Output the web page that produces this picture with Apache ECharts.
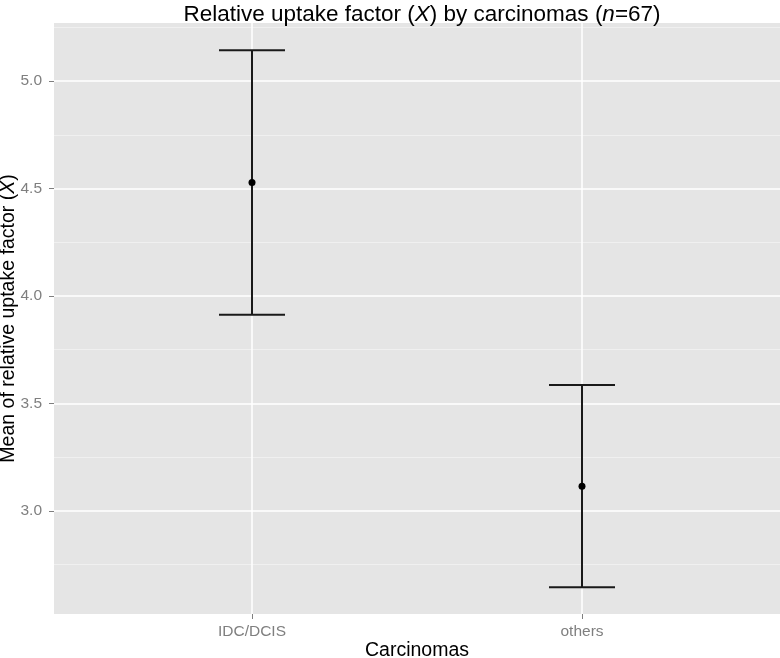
<!DOCTYPE html>
<html>
<head>
<meta charset="utf-8">
<script src="https://cdn.jsdelivr.net/npm/echarts@6/dist/echarts.min.js"></script>
<style>html,body{margin:0;padding:0;background:#fff}#c{width:780px;height:658px}</style>
</head>
<body>
<div id="c"></div>
<script>
const categories = ['IDC/DCIS', 'others'];
const means = [4.528, 3.115];
const lower = [3.912, 2.644];
const upper = [5.143, 3.585];
const yMajorTicks = [3.0, 3.5, 4.0, 4.5, 5.0];
const yMinorTicks = [2.75, 3.25, 3.75, 4.25, 4.75, 5.25];

const chart = echarts.init(document.getElementById('c'));
const xPos = categories.map((c, i) => i + 1);
const data = categories.map((c, i) => [xPos[i], means[i], lower[i], upper[i]]);
const FONT = 'Liberation Sans, Arial, sans-serif';

chart.setOption({
  animation: false,
  title: {
    text: '{n|Relative uptake factor (}{i|X}{n|) by carcinomas (}{i|n}{n|=67)}',
    left: 417, top: -2, textAlign: 'center',
    textStyle: {
      fontWeight: 'normal',
      rich: {
        n: {fontFamily: FONT, fontSize: 22.5, color: '#000', fontWeight: 'normal'},
        i: {fontFamily: FONT, fontSize: 22.5, color: '#000', fontStyle: 'italic', fontWeight: 'normal'}
      }
    }
  },
  grid: {left: 54, right: 0, top: 23, bottom: 44, show: true, backgroundColor: '#e5e5e5', borderWidth: 0, outerBoundsMode: 'none', containLabel: false},
  xAxis: {
    type: 'value', min: 0.4, max: 2.6,
    name: 'Carcinomas', nameLocation: 'middle', nameGap: 27, nameMoveOverlap: false,
    nameTextStyle: {fontFamily: FONT, fontSize: 19.5, color: '#000'},
    axisLine: {show: false},
    axisTick: {show: true, length: 5, lineStyle: {color: '#7f7f7f', width: 1}, customValues: xPos},
    axisLabel: {customValues: xPos, formatter: v => categories[Math.round(v) - 1] || '', color: '#7f7f7f', fontFamily: FONT, fontSize: 15.5, margin: 10},
    splitLine: {show: true, lineStyle: {color: '#ffffff', width: 1.5}}
  },
  yAxis: [
    {
      type: 'value', min: 2.52, max: 5.27, position: 'left',
      axisLine: {show: false},
      axisTick: {show: false, customValues: yMinorTicks},
      axisLabel: {show: false, customValues: yMinorTicks},
      splitLine: {show: true, lineStyle: {color: '#f2f2f2', width: 0.8}}
    },
    {
      type: 'value', min: 2.52, max: 5.27, position: 'left',
      name: '{n|Mean of relative uptake factor (}{i|X}{n|)}',
      nameLocation: 'middle', nameGap: 35, nameRotate: 90, nameMoveOverlap: false,
      nameTextStyle: {
        rich: {
          n: {fontFamily: FONT, fontSize: 19.5, color: '#000'},
          i: {fontFamily: FONT, fontSize: 19.5, color: '#000', fontStyle: 'italic'}
        }
      },
      axisLine: {show: false},
      axisTick: {show: true, length: 5, lineStyle: {color: '#7f7f7f', width: 1}, customValues: yMajorTicks},
      axisLabel: {customValues: yMajorTicks, formatter: v => v.toFixed(1), color: '#7f7f7f', fontFamily: FONT, fontSize: 15.5, margin: 12},
      splitLine: {show: true, lineStyle: {color: '#ffffff', width: 1.5}}
    }
  ],
  series: [{
    type: 'custom',
    yAxisIndex: 1,
    data: data,
    renderItem: function (params, api) {
      const x = api.value(0);
      const m = api.coord([x, api.value(1)]);
      const lo = api.coord([x, api.value(2)]);
      const hi = api.coord([x, api.value(3)]);
      const half = api.size([0.1, 0])[0];
      const ls = {stroke: '#1a1a1a', lineWidth: 2};
      return {
        type: 'group',
        children: [
          {type: 'line', shape: {x1: lo[0], y1: lo[1], x2: hi[0], y2: hi[1]}, style: ls},
          {type: 'line', shape: {x1: hi[0] - half, y1: hi[1], x2: hi[0] + half, y2: hi[1]}, style: ls},
          {type: 'line', shape: {x1: lo[0] - half, y1: lo[1], x2: lo[0] + half, y2: lo[1]}, style: ls},
          {type: 'circle', shape: {cx: m[0], cy: m[1], r: 3.5}, style: {fill: '#000'}}
        ]
      };
    }
  }]
});
</script>
</body>
</html>
